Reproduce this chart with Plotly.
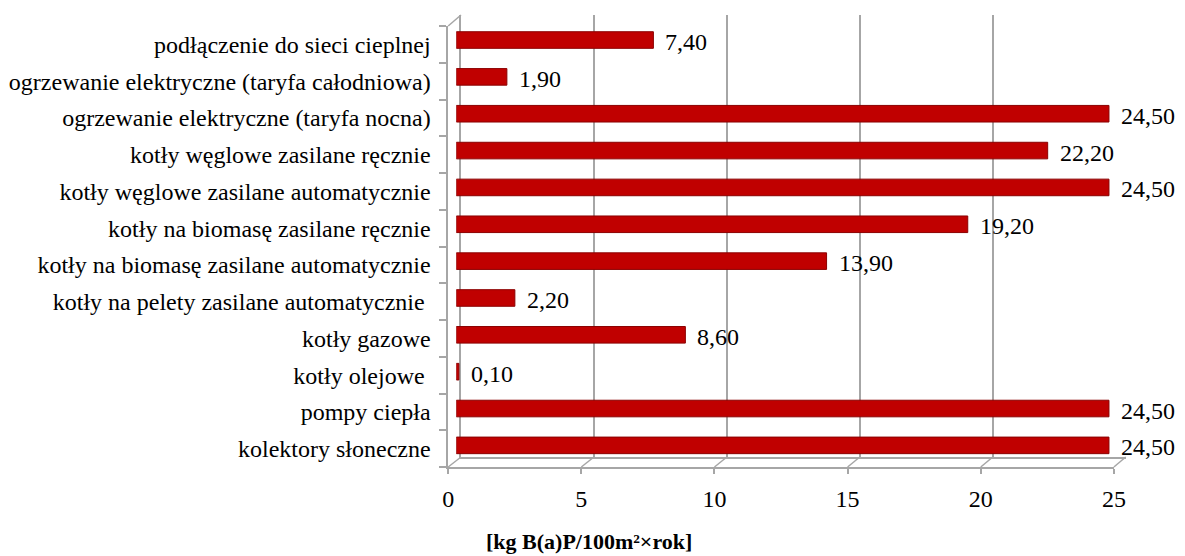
import plotly.graph_objects as go

categories = [
    "podłączenie do sieci cieplnej",
    "ogrzewanie elektryczne (taryfa całodniowa)",
    "ogrzewanie elektryczne (taryfa nocna)",
    "kotły węglowe zasilane ręcznie",
    "kotły węglowe zasilane automatycznie",
    "kotły na biomasę zasilane ręcznie",
    "kotły na biomasę zasilane automatycznie",
    "kotły na pelety zasilane automatycznie\u00a0",
    "kotły gazowe",
    "kotły olejowe\u00a0",
    "pompy ciepła",
    "kolektory słoneczne",
]
values = [7.40, 1.90, 24.50, 22.20, 24.50, 19.20, 13.90, 2.20, 8.60, 0.10, 24.50, 24.50]
x_ticks = [0, 5, 10, 15, 20, 25]
x_title = "[kg B(a)P/100m²×rok]"

W, H = 1185, 556
FONT = "Times New Roman, Liberation Serif, serif"
FS = 24
GRID = "#A6A6A6"
BAR = "#C00000"


def px_x(a, b):
    return [a / W, b / W]


def px_y(top, bottom):
    return [1 - bottom / H, 1 - top / H]


# back wall (grid), front wall (axes), bars (mid depth)
xb, yb = px_x(462, 1137), px_y(15, 457)
xf, yf = px_x(449, 1125), px_y(26, 467)
xm, ym = px_x(457.2, 1133.5), px_y(21.6, 463.8)

cat_order = list(reversed(categories))

fig = go.Figure()
fig.add_trace(go.Bar(
    x=values, y=categories, orientation="h",
    xaxis="x3", yaxis="y3",
    marker=dict(color=BAR, line=dict(color="#8B0000", width=1)),
    width=0.45, hoverinfo="x+y",
))

annotations = []
for c, v in zip(categories, values):
    annotations.append(dict(
        x=v, y=c, xref="x3", yref="y3", xanchor="left", yanchor="middle",
        xshift=10, yshift=-2, showarrow=False,
        text=f"{v:.2f}".replace(".", ","),
        font=dict(family=FONT, size=FS, color="black"),
    ))
annotations.append(dict(
    x=592 / W, y=1 - 541 / H, xref="paper", yref="paper",
    xanchor="center", yanchor="middle", showarrow=False,
    text=f"<b>{x_title}</b>", font=dict(family=FONT, size=22, color="black"),
))

shapes = []
for v in x_ticks:
    fx = xf[0] + v / 25 * (xf[1] - xf[0])
    bx = xb[0] + v / 25 * (xb[1] - xb[0])
    shapes.append(dict(type="line", xref="paper", yref="paper",
                       x0=fx, y0=yf[0], x1=bx, y1=yb[0],
                       line=dict(color=GRID, width=1.5), layer="below"))
shapes.append(dict(type="line", xref="paper", yref="paper",
                   x0=xf[0], y0=yf[1], x1=xb[0], y1=yb[1],
                   line=dict(color=GRID, width=1.5), layer="below"))

fig.update_layout(
    width=W, height=H,
    margin=dict(l=0, r=0, t=0, b=0),
    paper_bgcolor="white", plot_bgcolor="rgba(0,0,0,0)",
    showlegend=False,
    font=dict(family=FONT, size=FS, color="black"),
    # back wall with gridlines
    xaxis=dict(domain=xb, range=[0, 25], anchor="y", tickvals=x_ticks,
               showgrid=True, gridcolor=GRID, gridwidth=1.5,
               showticklabels=False, ticks="", showline=True,
               linecolor=GRID, linewidth=1.5, zeroline=False, fixedrange=True),
    yaxis=dict(domain=yb, range=[0, 1], anchor="x", showgrid=False,
               showticklabels=False, ticks="", showline=True,
               linecolor=GRID, linewidth=1.5, zeroline=False, fixedrange=True),
    # front wall with ticks and labels
    xaxis2=dict(domain=xf, range=[0, 25], anchor="y2", tickvals=x_ticks,
                showgrid=False, ticks="outside", ticklen=5, tickcolor=GRID,
                tickwidth=1.5, showline=True, linecolor=GRID, linewidth=1.5,
                zeroline=False, ticklabelstandoff=4,
                tickfont=dict(family=FONT, size=FS, color="black"), fixedrange=True),
    yaxis2=dict(domain=yf, anchor="x2", type="category",
                categoryorder="array", categoryarray=cat_order,
                range=[-0.5, len(categories) - 0.5],
                tickson="boundaries", ticks="outside", ticklen=7,
                tickcolor=GRID, tickwidth=1.5, showgrid=False,
                showline=True, linecolor=GRID, linewidth=1.5,
                ticklabelstandoff=11,
                tickfont=dict(family=FONT, size=FS, color="black"), fixedrange=True),
    # bars (mid depth)
    xaxis3=dict(domain=xm, range=[0, 25], anchor="y3", visible=False, fixedrange=True),
    yaxis3=dict(domain=ym, anchor="x3", type="category",
                categoryorder="array", categoryarray=cat_order,
                range=[-0.5, len(categories) - 0.5], visible=False, fixedrange=True),
    annotations=annotations,
    shapes=shapes,
)

# dummy traces so front/back subplots render
fig.add_trace(go.Scatter(x=[None], y=[None], xaxis="x", yaxis="y", showlegend=False, hoverinfo="skip"))
fig.add_trace(go.Scatter(x=[None], y=[categories[0]], xaxis="x2", yaxis="y2", showlegend=False, hoverinfo="skip"))

fig.write_html("out.html", config={"displayModeBar": False},
               post_script="document.body.style.margin='0';")
